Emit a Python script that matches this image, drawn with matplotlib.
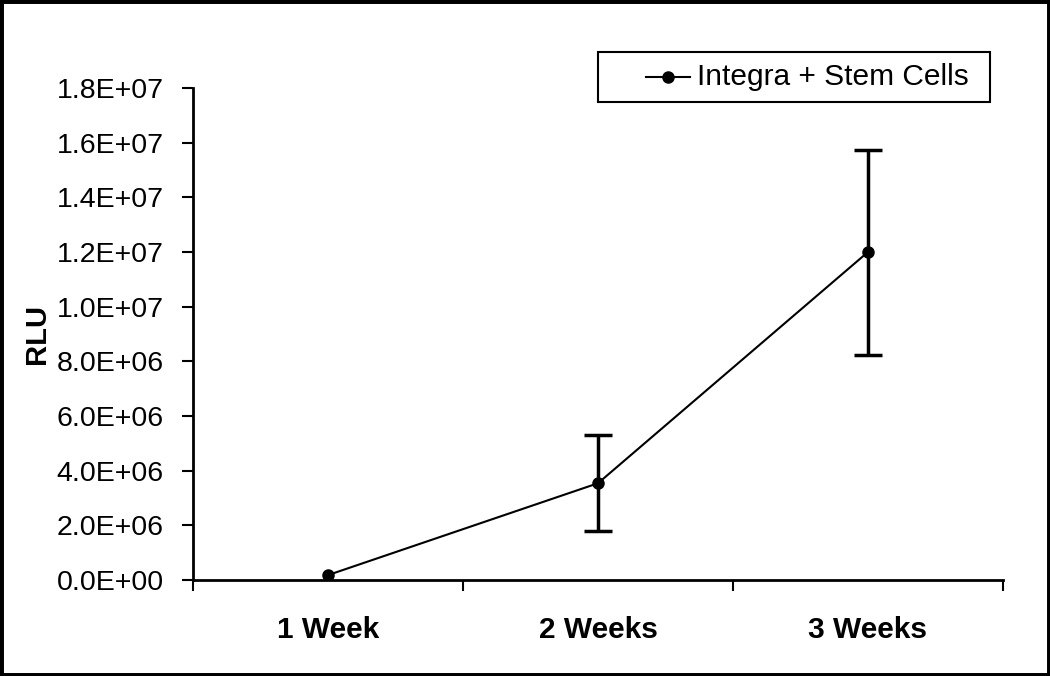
import numpy as np
import matplotlib
matplotlib.use('Agg')
import matplotlib.pyplot as plt
from matplotlib.patches import Rectangle
from matplotlib.lines import Line2D

# datos
categorias = ['1 Week', '2 Weeks', '3 Weeks']
rlu = [1.8e5, 3.54e6, 1.20e7]
error = [0.0, 1.76e6, 3.75e6]
serie = 'Integra + Stem Cells'

plt.rcParams['font.family'] = ['Liberation Sans', 'DejaVu Sans']

fig = plt.figure(figsize=(10.5, 6.76), dpi=100)
ax = fig.add_axes([0.1838, 0.142, 0.7714, 0.7278])

x = np.arange(len(categorias)) + 0.5
ax.plot(x, rlu, color='black', lw=1.5, marker='o', markersize=8)

# barras de error solo donde hay error
con_error = [i for i in range(len(error)) if error[i] > 0]
ax.errorbar(x[con_error], np.array(rlu)[con_error], yerr=np.array(error)[con_error],
            fmt='none', ecolor='black', elinewidth=2.5, capsize=10, capthick=2.5)

ax.set_xlim(0, len(categorias))
ax.set_ylim(0, 1.8e7)
yticks = np.arange(0, 1.8e7 + 1, 2e6)
ax.set_yticks(yticks)
ax.set_yticklabels([f'{v:.1E}' for v in yticks], fontsize=20.5)
ax.tick_params(axis='y', direction='out', length=8, width=1.5, pad=13)

# ticks en los limites de categoria, etiquetas en el centro
ax.set_xticks(np.arange(len(categorias) + 1))
ax.set_xticklabels([])
ax.set_xticks(x, minor=True)
ax.set_xticklabels(categorias, minor=True, fontsize=21.5, fontweight='bold')
ax.tick_params(axis='x', which='major', direction='out', length=8, width=1.5)
ax.tick_params(axis='x', which='minor', length=0, pad=26)

for s in ['top', 'right']:
    ax.spines[s].set_visible(False)
for s in ['left', 'bottom']:
    ax.spines[s].set_linewidth(2)

fig.text(0.035, 0.506, 'RLU', rotation=90, fontsize=21, fontweight='bold',
         ha='center', va='center')

# leyenda estilo Excel (caja con margen a la izquierda del simbolo)
fig.add_artist(Rectangle((0.5695, 0.8491), 0.3734, 0.074, transform=fig.transFigure,
                         facecolor='white', edgecolor='black', lw=1.5))
fig.add_artist(Line2D([0.6152, 0.6571], [0.8861, 0.8861], transform=fig.transFigure,
                      color='black', lw=1.5))
fig.add_artist(Line2D([0.6362], [0.8861], transform=fig.transFigure,
                      color='black', marker='o', markersize=8))
fig.text(0.6638, 0.8861, serie, fontsize=21.5, ha='left', va='center')

fig.patches.append(Rectangle((0, 0), 1, 1, transform=fig.transFigure, fill=False,
                             edgecolor='black', lw=5))

fig.savefig('out.png', dpi=100)
